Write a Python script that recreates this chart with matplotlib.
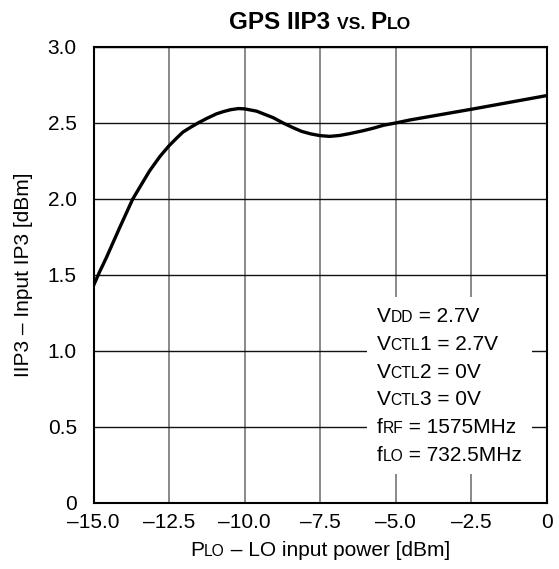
import matplotlib
matplotlib.use('Agg')
import matplotlib.pyplot as plt
from matplotlib.offsetbox import TextArea, HPacker, VPacker, AnnotationBbox

plt.rcParams['font.family'] = ['Liberation Sans', 'DejaVu Sans']

# ---- data ----
power_dbm = [-15.0, -14.8, -14.57, -14.13, -13.70, -13.4, -13.14, -12.8, -12.5,
             -12.25, -12.04, -11.8, -11.54, -11.25, -10.93, -10.7, -10.47, -10.2,
             -10.0, -9.6, -9.37, -9.05, -8.72, -8.4, -8.11, -7.8, -7.5, -7.18,
             -6.85, -6.52, -6.1, -5.75, -5.4, -5.0, -4.52, -2.5, 0.0]
iip3_dbm = [1.43, 1.52, 1.616, 1.813, 2.0, 2.10, 2.186, 2.28, 2.35,
            2.40, 2.44, 2.47, 2.50, 2.53, 2.56, 2.575, 2.587, 2.595,
            2.593, 2.578, 2.56, 2.535, 2.50, 2.47, 2.445, 2.428, 2.417, 2.412,
            2.418, 2.43, 2.448, 2.465, 2.485, 2.50, 2.52, 2.59, 2.68]

x_ticks = [-15.0, -12.5, -10.0, -7.5, -5.0, -2.5, 0.0]
x_tick_labels = ['–15.0', '–12.5', '–10.0', '–7.5', '–5.0', '–2.5', '0']
y_ticks = [0.0, 0.5, 1.0, 1.5, 2.0, 2.5, 3.0]
y_tick_labels = ['0', '0.5', '1.0', '1.5', '2.0', '2.5', '3.0']

# (text, small-caps?) segments
title_parts = [('GPS IIP3 ', False), ('VS. ', True), ('P', False), ('LO', True)]
xlabel_parts = [('P', False), ('LO', True), (' – LO input power [dBm]', False)]
ylabel_text = 'IIP3 – Input IP3 [dBm]'
condition_lines = [
    [('V', False), ('DD', True), (' = 2.7V', False)],
    [('V', False), ('CTL', True), ('1 = 2.7V', False)],
    [('V', False), ('CTL', True), ('2 = 0V', False)],
    [('V', False), ('CTL', True), ('3 = 0V', False)],
    [('f', False), ('RF', True), (' = 1575MHz', False)],
    [('f', False), ('LO', True), (' = 732.5MHz', False)],
]

FS = 15
TITLE_FS = 17.5
SC = 0.75
W, H = 559, 569


def mixed(parts, weight='normal', fs=FS, sc=SC):
    boxes = [TextArea(t, textprops=dict(fontsize=fs * sc if small else fs,
                                        fontweight=weight, color='black'))
             for t, small in parts]
    return HPacker(children=boxes, pad=0, sep=0, align='baseline')


fig = plt.figure(figsize=(W / 100, H / 100), dpi=100)
ax_l, ax_r, ax_t, ax_b = 93.5, 546.5, 47, 503
ax = fig.add_axes([ax_l / W, 1 - ax_b / H, (ax_r - ax_l) / W, (ax_b - ax_t) / H])

ax.plot(power_dbm, iip3_dbm, color='black', lw=2.4, zorder=3,
        solid_capstyle='butt', solid_joinstyle='round')

ax.set_xlim(-15, 0)
ax.set_ylim(0, 3)
ax.set_xticks(x_ticks)
ax.set_xticklabels(x_tick_labels)
ax.set_yticks(y_ticks)
ax.set_yticklabels(y_tick_labels)
ax.tick_params(axis='both', length=0, labelsize=FS, colors='black')
ax.tick_params(axis='x', pad=7)
ax.tick_params(axis='y', pad=12)

ax.set_axisbelow(True)
ax.grid(True, axis='x', color='#6a6a6a', lw=1.1)
ax.grid(True, axis='y', color='#111111', lw=1.0)
for s in ax.spines.values():
    s.set_linewidth(1.5)
    s.set_color('black')
    s.set_zorder(5)

# condition box
cond = VPacker(children=[mixed(l) for l in condition_lines], align='left', pad=0, sep=6.3)
ab = AnnotationBbox(cond, xy=((376.7 - ax_l) / (ax_r - ax_l), (ax_b - 307) / (ax_b - ax_t)),
                    xycoords='axes fraction', box_alignment=(0, 1), frameon=True,
                    pad=0.7, bboxprops=dict(facecolor='white', edgecolor='none'),
                    zorder=4)
ax.add_artist(ab)

# title
tb = AnnotationBbox(mixed(title_parts, weight='bold', fs=TITLE_FS, sc=0.72),
                    xy=(0.5, H - 34),
                    xycoords=('axes fraction', 'figure pixels'), box_alignment=(0.5, 0),
                    frameon=False, pad=0, annotation_clip=False)
ax.add_artist(tb)

# x label
xb = AnnotationBbox(mixed(xlabel_parts), xy=(0.5, 9.5),
                    xycoords=('axes fraction', 'figure pixels'), box_alignment=(0.5, 0),
                    frameon=False, pad=0, annotation_clip=False)
ax.add_artist(xb)

# y label
fig.text(24 / W, 1 - 275 / H, ylabel_text, rotation=90, ha='center', va='center',
         fontsize=FS, color='black')

fig.savefig('out.png', dpi=100, facecolor='white')
